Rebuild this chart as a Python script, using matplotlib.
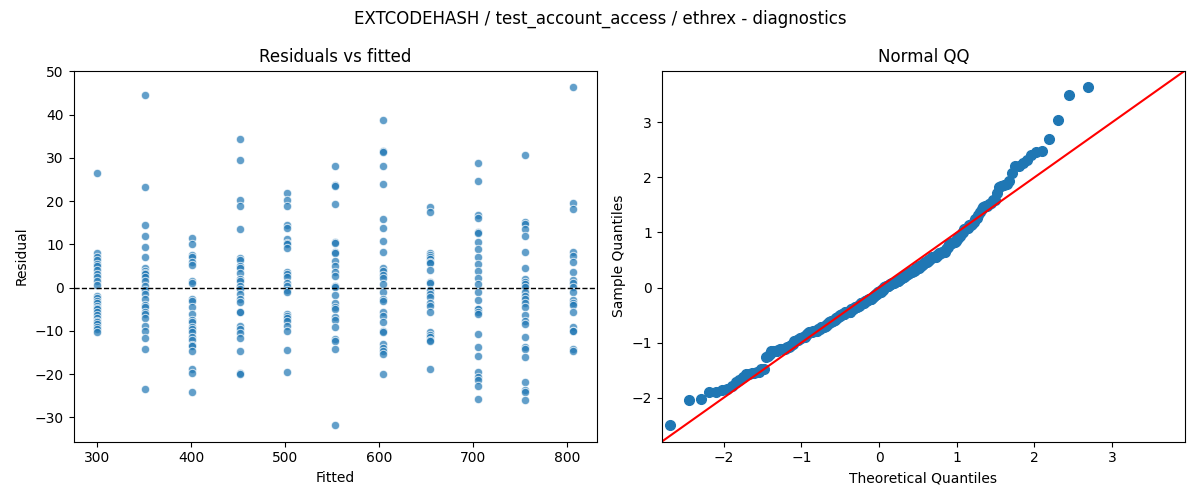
import matplotlib
matplotlib.use("Agg")
import matplotlib.pyplot as plt
import numpy as np
from statistics import NormalDist

title = "EXTCODEHASH / test_account_access / ethrex - diagnostics"

fitted_levels = [300, 351, 401, 452, 502, 553, 604, 654, 705, 755, 806]

res_300 = [26.5, 8.1, 7.0, 6.4, 5.5, 5.0, 4.0, 3.2, 2.5, 1.6, 0.6, -1.8, -2.4, -3.0, -3.6,
           -4.2, -4.8, -5.0, -5.5, -6.2, -7.0, -7.6, -8.0, -8.4, -9.0, -9.6, -10.2]
res_351 = [44.6, 23.3, 14.4, 11.9, 9.4, 7.1, 4.5, 3.9, 3.5, 3.1, 2.4, 1.5, 0.5, -0.5, -1.5,
           -2.6, -4.1, -4.5, -5.7, -6.1, -7.0, -8.8, -10.1, -11.6, -14.1, -23.5]
res_401 = [11.4, 10.1, 7.6, 7.0, 6.0, 5.2, 1.6, 1.1, -2.5, -3.0, -4.5, -6.1, -7.4, -8.0,
           -9.0, -9.5, -10.3, -11.4, -12.0, -13.2, -13.5, -14.7, -18.9, -19.7, -24.0]
res_452 = [34.5, 29.6, 20.3, 19.0, 13.5, 6.8, 6.5, 5.1, 4.5, 3.5, 2.0, 1.6, 0.5, -0.3, -1.5,
           -2.6, -3.2, -5.5, -5.7, -8.9, -9.5, -10.5, -11.6, -14.7, -19.7, -19.9]
res_502 = [21.8, 20.2, 18.9, 14.4, 13.9, 11.2, 10.4, 10.0, 9.1, 3.7, 3.1, 2.5, 1.2, 0.5, -0.5,
           -1.1, -6.0, -6.5, -7.0, -7.8, -8.8, -10.1, -14.5, -19.4]
res_553 = [28.1, 23.7, 23.5, 19.3, 10.6, 10.3, 8.3, 8.0, 6.2, 5.1, 3.7, 2.6, 0.5, 0.1, -1.7,
           -3.5, -4.5, -4.9, -6.8, -7.4, -9.0, -11.8, -12.2, -14.1, -31.7]
res_604 = [38.8, 31.6, 31.3, 28.1, 23.9, 15.8, 13.7, 10.8, 8.3, 4.5, 3.9, 3.0, 2.2, 0.8,
           -1.1, -2.6, -3.0, -5.7, -6.6, -8.0, -9.9, -10.3, -13.0, -14.0, -14.7, -15.4, -19.9]
res_654 = [18.7, 17.4, 8.1, 7.5, 7.0, 6.6, 6.0, 5.8, 4.1, 1.4, 1.1, -0.5, -1.4, -2.2, -3.5,
           -4.3, -5.7, -10.3, -10.9, -11.5, -12.0, -12.4, -18.9]
res_705 = [28.9, 24.6, 16.8, 16.2, 13.0, 12.7, 10.6, 9.0, 7.2, 5.5, 3.9, 2.3, 0.8, -1.1,
           -2.8, -4.9, -5.0, -5.5, -6.1, -10.7, -13.7, -15.7, -19.5, -20.7, -21.4, -22.7, -25.8]
res_755 = [30.6, 15.1, 14.7, 13.5, 12.0, 8.3, 4.6, 2.0, 1.4, 0.8, 0.1, -0.9, -1.8, -2.6,
           -3.5, -4.5, -6.3, -7.8, -8.4, -11.4, -13.7, -14.1, -16.1, -21.7, -23.7, -24.0, -26.0]
res_806 = [46.3, 19.7, 18.1, 8.3, 7.4, 6.0, 3.7, 1.8, 1.2, 0.1, -0.9, -2.8, -3.5, -4.0,
           -5.5, -9.1, -9.9, -10.0, -14.1, -14.7]

groups = [res_300, res_351, res_401, res_452, res_502, res_553, res_604, res_654,
          res_705, res_755, res_806]

fitted = np.concatenate([[f] * len(g) for f, g in zip(fitted_levels, groups)])
resid = np.concatenate([np.array(g, dtype=float) for g in groups])

fig, (ax1, ax2) = plt.subplots(1, 2, figsize=(12, 5), dpi=100)

ax1.scatter(fitted, resid, s=36, color="C0", alpha=0.7, edgecolors="white", linewidths=0.75)
ax1.axhline(0, color="black", linestyle="--", linewidth=1)
ax1.set_title("Residuals vs fitted", fontsize=12)
ax1.set_xlabel("Fitted")
ax1.set_ylabel("Residual")

# Normal QQ (fit=True, plotting positions i/(n+1))
n = len(resid)
srt = np.sort(resid)
loc, scale = srt.mean(), srt.std()
sample_q = (srt - loc) / scale
nd = NormalDist()
theo_q = np.array([nd.inv_cdf(i / (n + 1)) for i in range(1, n + 1)])

ax2.plot(theo_q, sample_q, "o", color="C0", markersize=7)
lo, hi = ax2.get_ylim()
ax2.plot([lo, hi], [lo, hi], color="red", linewidth=1.5)
ax2.set_xlim(lo, hi)
ax2.set_ylim(lo, hi)
ax2.set_title("Normal QQ", fontsize=12)
ax2.set_xlabel("Theoretical Quantiles")
ax2.set_ylabel("Sample Quantiles")

fig.suptitle(title, fontsize=12)
fig.tight_layout()
fig.savefig("out.png", dpi=100)
